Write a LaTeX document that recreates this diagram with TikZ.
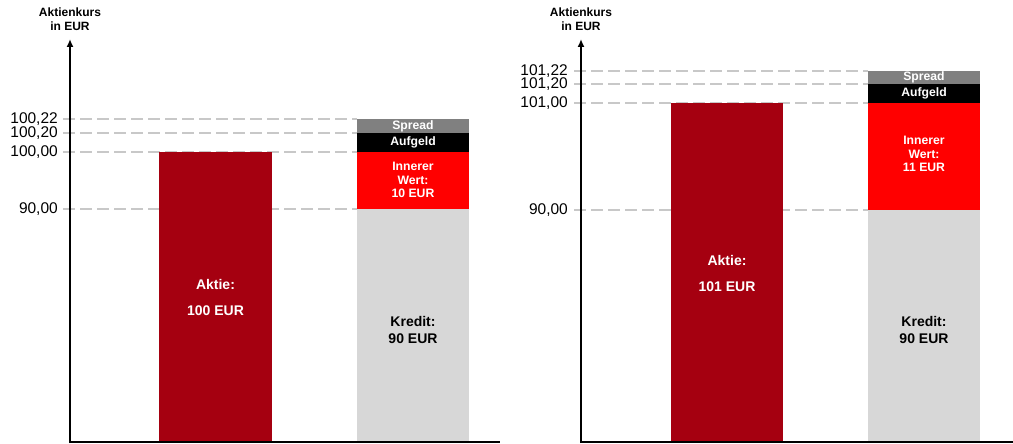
\documentclass[tikz,border=0pt]{standalone}
\usepackage{fontspec}
\setmainfont{Liberation Sans}
\usetikzlibrary{arrows.meta}

\definecolor{aktiered}{HTML}{A50010}
\definecolor{innerred}{HTML}{FF0000}
\definecolor{spreadgray}{HTML}{808080}
\definecolor{kreditgray}{HTML}{D7D7D7}
\definecolor{guidegray}{HTML}{C8C8C8}

\begin{document}
\begin{tikzpicture}[
	x=1pt,
	y=-1pt,
		axis/.style={
			line width=2pt,
			-{Latex[length=8pt,width=7pt]}
		},
		xaxis/.style={
			line width=2pt
		},
		guide/.style={
			draw=guidegray,
			line width=1.3pt,
			dash pattern=on 12pt off 5pt
		},
		ticklabel/.style={
			anchor=east,
			inner sep=0pt,
			font=\fontsize{15.5}{15.5}\selectfont
		},
		axistitle/.style={
			align=center,
			inner sep=0pt,
			font=\bfseries\fontsize{12}{14}\selectfont
		},
		barlabel/.style={
			align=center,
			inner sep=0pt,
			font=\bfseries\fontsize{14}{17}\selectfont
		},
		seglabel/.style={
			align=center,
			inner sep=0pt,
			text=white,
			font=\bfseries\fontsize{12.2}{13.5}\selectfont
		}
	]
	\useasboundingbox (0,0) rectangle (1013,444);

	% Left chart: guide lines
	\draw[guide] (63,119) -- (357,119);
	\draw[guide] (63,133) -- (357,133);
	\draw[guide] (63,152) -- (357,152);
	\draw[guide] (63,209) -- (357,209);
	% Left chart: bars
	\fill[aktiered] (159,152) rectangle (272,442);
	\fill[kreditgray] (357,209) rectangle (469,442);
	\fill[innerred] (357,152) rectangle (469,209);
	\fill[black] (357,133) rectangle (469,152);
	\fill[spreadgray] (357,119) rectangle (469,133);
	% Left chart: bar labels
	\node[barlabel, text=white, font=\bfseries\fontsize{14}{26}\selectfont] (aktie1) at (215.5,297) {Aktie:\\100 EUR};
	\node[barlabel] (kredit1) at (413,330) {Kredit:\\90 EUR};
	\node[seglabel] (inner1) at (413,180) {Innerer\\Wert:\\10 EUR};
	\node[seglabel] (aufgeld1) at (413,142) {Aufgeld};
	\node[seglabel] (spread1) at (413,126) {Spread};
	% Left chart: axes
	\coordinate (o1) at (70,443);
	\coordinate (top1) at (70,39);
	\coordinate (end1) at (500,442);
	\draw[axis] (o1) -- (top1);
	\draw[xaxis] (69,442) -- (end1);
	\node[axistitle] (title1) at (70,19) {Aktienkurs\\in EUR};
	\node[ticklabel] (t1a) at (58,119.5) {100,22};
	\node[ticklabel] (t1b) at (58,133.5) {100,20};
	\node[ticklabel] (t1c) at (58,152.5) {100,00};
	\node[ticklabel] (t1d) at (58,209.5) {90,00};

	% Right chart: guide lines
	\draw[guide] (574,71) -- (868,71);
	\draw[guide] (574,84) -- (868,84);
	\draw[guide] (574,103) -- (868,103);
	\draw[guide] (574,210) -- (868,210);
	% Right chart: bars
	\fill[aktiered] (671,103) rectangle (783,442);
	\fill[kreditgray] (868,210) rectangle (980,442);
	\fill[innerred] (868,103) rectangle (980,210);
	\fill[black] (868,84) rectangle (980,103);
	\fill[spreadgray] (868,71) rectangle (980,84);
	% Right chart: bar labels
	\node[barlabel, text=white, font=\bfseries\fontsize{14}{26}\selectfont] (aktie2) at (727,273) {Aktie:\\101 EUR};
	\node[barlabel] (kredit2) at (924,330) {Kredit:\\90 EUR};
	\node[seglabel] (inner2) at (924,154) {Innerer\\Wert:\\11 EUR};
	\node[seglabel] (aufgeld2) at (924,93) {Aufgeld};
	\node[seglabel] (spread2) at (924,77) {Spread};
	% Right chart: axes
	\coordinate (o2) at (581,443);
	\coordinate (top2) at (581,39);
	\coordinate (end2) at (1013,442);
	\draw[axis] (o2) -- (top2);
	\draw[xaxis] (580,442) -- (end2);
	\node[axistitle] (title2) at (581,19) {Aktienkurs\\in EUR};
	\node[ticklabel] (t2a) at (568,71.5) {101,22};
	\node[ticklabel] (t2b) at (568,84.5) {101,20};
	\node[ticklabel] (t2c) at (568,103.5) {101,00};
	\node[ticklabel] (t2d) at (568,210.5) {90,00};
\end{tikzpicture}
\end{document}
